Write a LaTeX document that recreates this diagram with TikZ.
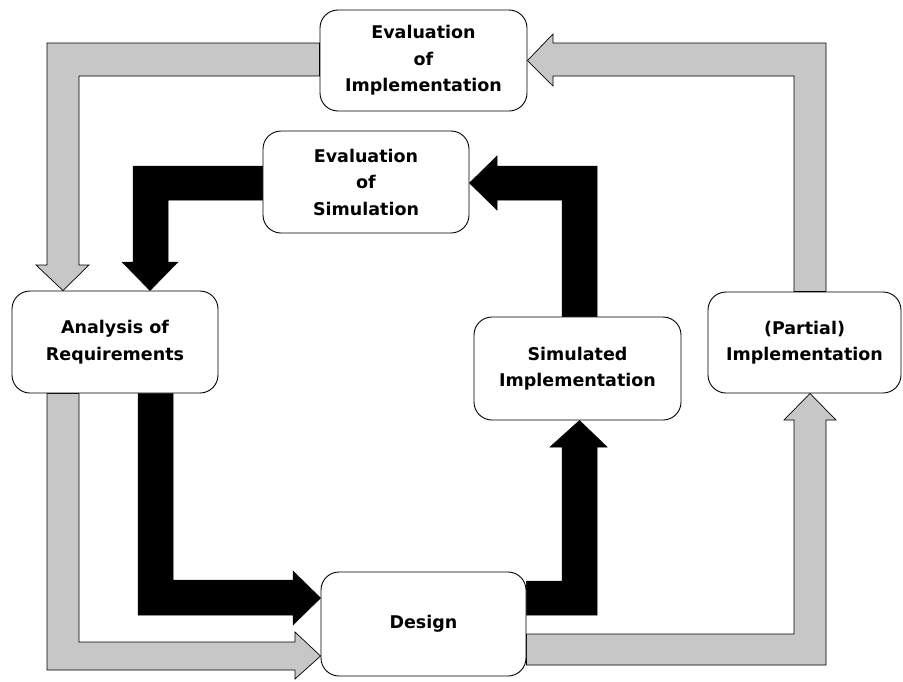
\documentclass[tikz,border=0pt]{standalone}
\usepackage{fontspec}
\setmainfont{DejaVu Sans}
\usetikzlibrary{backgrounds}
\tikzset{
  stage/.style={draw=black, line width=0.9pt, fill=white, rounded corners=18pt,
    inner sep=0pt, align=center,
    font=\fontsize{17.5}{26.5}\selectfont\bfseries},
  greyband/.style={draw=black, line width=0.7pt, fill=black!22, line join=miter},
  blackband/.style={draw=black, line width=0.5pt, fill=black, line join=miter}
}
\begin{document}
\begin{tikzpicture}[x=1pt,y=-1pt]
\useasboundingbox (0,0) rectangle (903,681);

% stages of the cycle
\node[stage, minimum width=207pt, minimum height=101pt] (ei) at (423.5,60.5) {Evaluation\\of\\Implementation};
\node[stage, minimum width=206pt, minimum height=102pt] (es) at (366,182) {Evaluation\\of\\Simulation};
\node[stage, minimum width=206pt, minimum height=102pt] (ar) at (115,342) {Analysis of\\Requirements};
\node[stage, minimum width=205pt, minimum height=104pt] (de) at (423.5,624) {Design};
\node[stage, minimum width=207pt, minimum height=103pt] (si) at (577.5,368.5) {Simulated\\Implementation};
\node[stage, minimum width=193pt, minimum height=101pt] (pi) at (804.5,342.5) {(Partial)\\Implementation};

\begin{pgfonlayer}{background}
% outer loop: real implementation (grey block arrows)
\draw[greyband] (ei.west |- 0,43) -- (47,43) -- (47,265) -- (36,265)
  -- (63,0 |- ar.north) -- (89,265) -- (79,265) -- (79,76) -- (ei.west |- 0,76) -- cycle;
\draw[greyband] (794,0 |- pi.north) -- (794,76) -- (553,76) -- (553,86)
  -- (ei.east) -- (553,34) -- (553,43) -- (826,43) -- (826,0 |- pi.north) -- cycle;
\draw[greyband] (47,0 |- ar.south) -- (47,670) -- (295,670) -- (295,679)
  -- (de.west |- 0,656) -- (295,632) -- (295,642) -- (79,642) -- (79,0 |- ar.south) -- cycle;
\draw[greyband] (de.east |- 0,634) -- (794,634) -- (794,420) -- (784,420)
  -- (810,0 |- pi.south) -- (836,420) -- (826,420) -- (826,665) -- (de.east |- 0,665) -- cycle;

% inner loop: simulation (black block arrows)
\draw[blackband] (es.west |- 0,166) -- (133,166) -- (133,262) -- (122,262)
  -- (150,0 |- ar.north) -- (178,262) -- (168,262) -- (168,200) -- (es.west |- 0,200) -- cycle;
\draw[blackband] (138,0 |- ar.south) -- (138,615) -- (293,615) -- (293,625)
  -- (de.west |- 0,598) -- (293,571) -- (293,580) -- (173,580) -- (173,0 |- ar.south) -- cycle;
\draw[blackband] (de.east |- 0,581) -- (562,581) -- (562,447) -- (550,447)
  -- (579.5,0 |- si.south) -- (607,447) -- (597,447) -- (597,615) -- (de.east |- 0,615) -- cycle;
\draw[blackband] (562,0 |- si.north) -- (562,200) -- (497,200) -- (497,210)
  -- (es.east |- 0,183) -- (497,156) -- (497,166) -- (597,166) -- (597,0 |- si.north) -- cycle;
\end{pgfonlayer}
\end{tikzpicture}
\end{document}
